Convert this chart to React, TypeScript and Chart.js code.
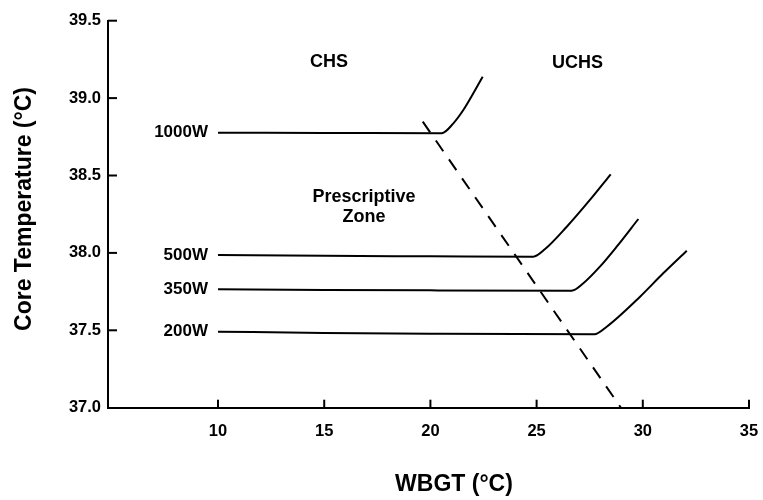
import { useEffect, useRef } from 'react';
import { Chart, registerables } from 'chart.js';

Chart.register(...registerables);

const seriesLabels = ['1000W', '500W', '350W', '200W'];
const wbgt1000 = [10, 15, 20.53, 21.08, 21.55, 22.02, 22.46];
const core1000 = [38.776, 38.775, 38.773, 38.837, 38.923, 39.031, 39.138];
const wbgt500 = [10, 15, 20, 24.84, 25.4, 26.42, 27.51, 28.49];
const core500 = [37.986, 37.981, 37.978, 37.975, 38.025, 38.169, 38.342, 38.508];
const wbgt350 = [10, 15, 20, 26.65, 27.2, 27.98, 28.77, 29.79];
const core350 = [37.765, 37.761, 37.758, 37.756, 37.804, 37.911, 38.04, 38.219];
const wbgt200 = [10, 15, 20, 27.72, 28.3, 29.87, 30.96, 32.07];
const core200 = [37.491, 37.483, 37.478, 37.474, 37.523, 37.717, 37.868, 38.014];
const limitWbgt = [19.64, 28.97];
const limitCore = [38.848, 37.0];

const xTickValues = [10, 15, 20, 25, 30, 35];
const yTickValues = [37.0, 37.5, 38.0, 38.5, 39.0, 39.5];

const zoneTexts = ['CHS', 'UCHS', 'Prescriptive', 'Zone'];
const zoneWbgt = [15.23, 26.93, 16.87, 16.87];
const zoneCore = [39.235, 39.229, 38.361, 38.234];

const xTitle = 'WBGT (°C)';
const yTitle = 'Core Temperature (°C)';

const FONT = '"Liberation Sans", Arial, Helvetica, sans-serif';

const toPoints = (xs: number[], ys: number[]) => xs.map((v, i) => ({ x: v, y: ys[i] }));

const decorPlugin = {
  id: 'decor',
  afterDatasetsDraw(chart: any) {
    const { ctx, chartArea } = chart;
    const x = chart.scales.x;
    const y = chart.scales.y;
    ctx.save();
    ctx.strokeStyle = '#000';
    ctx.lineWidth = 2;
    // inward tick marks
    xTickValues.forEach((v) => {
      const px = x.getPixelForValue(v);
      ctx.beginPath();
      ctx.moveTo(px, chartArea.bottom);
      ctx.lineTo(px, chartArea.bottom - 8);
      ctx.stroke();
    });
    yTickValues.forEach((v) => {
      if (v === 37.0) return;
      const py = y.getPixelForValue(v);
      ctx.beginPath();
      ctx.moveTo(chartArea.left, py);
      ctx.lineTo(chartArea.left + 9, py);
      ctx.stroke();
    });
    // series labels at the start of each curve
    ctx.fillStyle = '#000';
    ctx.font = `bold 17px ${FONT}`;
    ctx.textAlign = 'right';
    ctx.textBaseline = 'middle';
    chart.data.datasets.forEach((ds: any, i: number) => {
      if (i >= seriesLabels.length) return;
      const p = ds.data[0];
      ctx.fillText(ds.label, x.getPixelForValue(p.x) - 10, y.getPixelForValue(p.y));
    });
    // zone texts
    ctx.font = `bold 18px ${FONT}`;
    ctx.textAlign = 'center';
    zoneTexts.forEach((t, i) => {
      ctx.fillText(t, x.getPixelForValue(zoneWbgt[i]), y.getPixelForValue(zoneCore[i]));
    });
    // axis titles
    ctx.font = `bold 23px ${FONT}`;
    ctx.fillText(xTitle, 454, 485);
    ctx.translate(25, 209);
    ctx.rotate(-Math.PI / 2);
    ctx.font = `bold 23px ${FONT}`;
    ctx.fillText(yTitle, 0, 0);
    ctx.restore();
  },
};

export default function App() {
  const canvasRef = useRef<HTMLCanvasElement | null>(null);

  useEffect(() => {
    document.body.style.margin = '0';
    const canvas = canvasRef.current;
    if (!canvas) return;
    const lineStyle = {
      borderColor: '#000',
      borderWidth: 2,
      pointRadius: 0,
      fill: false,
      cubicInterpolationMode: 'monotone' as const,
    };
    const chart = new Chart(canvas, {
      type: 'line',
      data: {
        datasets: [
          { label: seriesLabels[0], data: toPoints(wbgt1000, core1000), ...lineStyle },
          { label: seriesLabels[1], data: toPoints(wbgt500, core500), ...lineStyle },
          { label: seriesLabels[2], data: toPoints(wbgt350, core350), ...lineStyle },
          { label: seriesLabels[3], data: toPoints(wbgt200, core200), ...lineStyle },
          {
            label: 'limit',
            data: toPoints(limitWbgt, limitCore),
            borderColor: '#000',
            borderWidth: 2,
            borderDash: [13, 10],
            pointRadius: 0,
            fill: false,
            tension: 0,
          },
        ],
      },
      options: {
        responsive: false,
        animation: false,
        layout: { padding: { left: 0, right: 14, top: 20.7, bottom: 0 } },
        plugins: {
          legend: { display: false },
          tooltip: { enabled: false },
          title: { display: false },
        },
        scales: {
          x: {
            type: 'linear',
            min: 4.82,
            max: 35,
            afterBuildTicks: (scale: any) => {
              scale.ticks = xTickValues.map((v) => ({ value: v }));
            },
            afterFit: (scale: any) => {
              scale.height = 92.3;
              scale.paddingLeft = 0;
              scale.paddingRight = 0;
            },
            ticks: {
              color: '#000',
              padding: 14,
              maxRotation: 0,
              font: { family: FONT, size: 16.5, weight: 'bold' },
              callback: (v: any) => String(v),
            },
            grid: { display: true, drawOnChartArea: false, drawTicks: false },
            border: { display: true, color: '#000', width: 2 },
          },
          y: {
            type: 'linear',
            min: 37,
            max: 39.5,
            afterBuildTicks: (scale: any) => {
              scale.ticks = yTickValues.map((v) => ({ value: v }));
            },
            afterFit: (scale: any) => {
              scale.width = 108;
            },
            ticks: {
              color: '#000',
              padding: 7,
              font: { family: FONT, size: 16.5, weight: 'bold' },
              callback: (v: any) => Number(v).toFixed(1),
            },
            grid: { display: true, drawOnChartArea: false, drawTicks: false },
            border: { display: true, color: '#000', width: 2 },
          },
        },
      },
      plugins: [decorPlugin],
    });
    return () => chart.destroy();
  }, []);

  return <canvas ref={canvasRef} width={763} height={500} style={{ display: 'block' }} />;
}
